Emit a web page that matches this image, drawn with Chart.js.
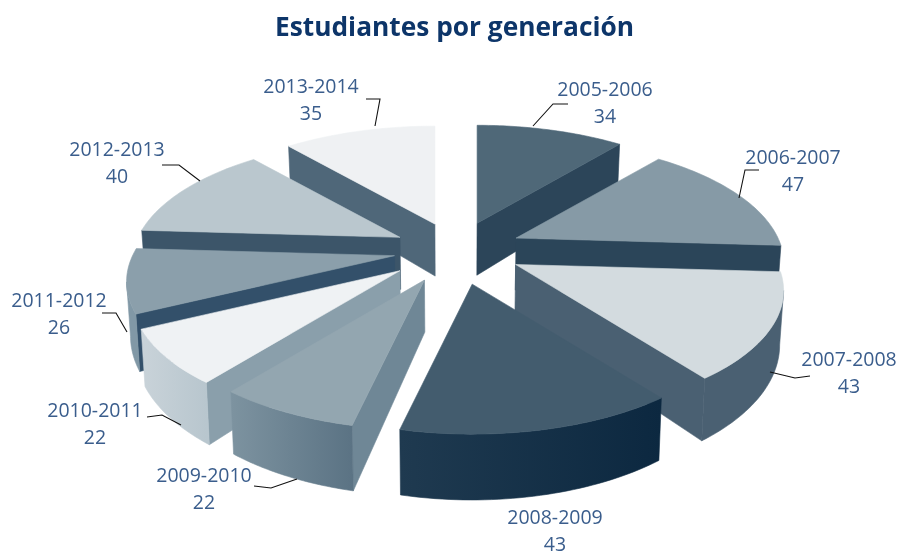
<!DOCTYPE html>
<html><head><meta charset="utf-8">
<script src="https://cdn.jsdelivr.net/npm/chart.js@4"></script>
<style>html,body{margin:0;padding:0;background:#fff}#w{width:900px;height:552px}</style>
</head><body><div id="w"><canvas id="c" width="900" height="552"></canvas></div>
<script>
// Data
const generations = ['2005-2006','2006-2007','2007-2008','2008-2009','2009-2010','2010-2011','2011-2012','2012-2013','2013-2014'];
const students = [34,47,43,43,22,22,26,40,35];
const chartTitle = 'Estudiantes por generación';

// Style
const explode = [68,69,68,75,72,72,64,66,66];
const topColors = ['#4f6878','#869aa6','#d3dbdf','#435c6e','#93a6b0','#eff2f4','#8b9fab','#bac7ce','#eff1f3'];
const cutColors = ['#2c4559','#2b4559','#4a6072','#1f3a50','#6f8796','#8a9fab','#33506a','#3c5569','#4f6779'];
const rimLeft   = ['#2c4559','#2b4559','#4a6072','#1f3a50','#7d93a0','#c9d3d9','#8198a6','#3c5569','#4f6779'];
const rimRight  = ['#2c4559','#2b4559','#4a6072','#0c2840','#5b7384','#b8c6ce','#8198a6','#3c5569','#4f6779'];
const paintOrder = [0,8,7,1,6,5,2,4,3];
const labelX = [605,793,849,555,204,95,59,117,311];
const labelY = [90,158,360,518,476,411,301,150,87];
const lineGap = 27;
const leaders = [
 [[568,104],[553,104],[533,126]],
 [[759,170],[745,170],[739,198]],
 [[810,376],[795,378],[770,372]],
 [],
 [[254,486],[271,488],[297,479]],
 [[147,417],[162,415],[181,425]],
 [[102,313],[116,313],[127,332]],
 [[162,165],[179,165],[200,181]],
 [[366,99],[380,99],[375,126]]
];
const view = {cx:456, cy:250, rx:262, ry:118.5, k:0.21, depth:52, offsetUnit:270};

const project = (u,v)=>{const s=1/(1-view.k*v);return {x:view.rx*u*s,y:view.ry*v*s,s};};

function poly(ctx,pts,fill){
  ctx.beginPath();
  pts.forEach((p,i)=>i?ctx.lineTo(p.x,p.y):ctx.moveTo(p.x,p.y));
  ctx.closePath();
  ctx.fillStyle=fill;ctx.strokeStyle=fill;ctx.lineWidth=0.6;ctx.lineJoin='round';
  ctx.fill();ctx.stroke();
}
const drop=p=>({x:p.x+(view.cx-p.x)*0.012,y:p.y+view.depth*p.s});

const pie3d={
  id:'pie3d',
  beforeDatasetDraw(chart,args){
    const ctx=chart.ctx, arcs=chart.getDatasetMeta(args.index).data;
    ctx.save();
    paintOrder.forEach(i=>{
      const a=arcs[i];
      const t0=a.startAngle+Math.PI/2,t1=a.endAngle+Math.PI/2,mid=(t0+t1)/2;
      const e=a.options.offset/view.offsetUnit;
      const o=project(e*Math.sin(mid),-e*Math.cos(mid));
      const ax=view.cx+o.x,ay=view.cy+o.y;
      const apex={x:ax,y:ay,s:1};
      const rim=[];
      const n=40;
      for(let j=0;j<=n;j++){
        const t=t0+(t1-t0)*j/n,p=project(Math.sin(t),-Math.cos(t));
        rim.push({x:ax+p.x,y:ay+p.y,s:p.s});
      }
      const first=rim[0],last=rim[n];
      // cut faces that look toward the viewer
      if(first.x<apex.x) poly(ctx,[apex,first,drop(first),drop(apex)],cutColors[i]);
      if(apex.x<last.x) poly(ctx,[last,apex,drop(apex),drop(last)],cutColors[i]);
      // outer wall
      const vis=[];
      for(let j=0;j<n;j++){ if(rim[j+1].x<rim[j].x){ if(!vis.length)vis.push(rim[j]); vis.push(rim[j+1]); } }
      if(vis.length>1){
        const xs=vis.map(p=>p.x),g=ctx.createLinearGradient(Math.min(...xs),0,Math.max(...xs),0);
        g.addColorStop(0,rimLeft[i]);g.addColorStop(1,rimRight[i]);
        poly(ctx,vis.concat(vis.map(drop).reverse()),g);
      }
      poly(ctx,[apex,...rim],topColors[i]);
    });
    // leader lines and labels
    ctx.strokeStyle='#111';ctx.lineWidth=1.1;ctx.lineJoin='miter';
    leaders.forEach(l=>{ if(!l.length)return; ctx.beginPath(); l.forEach((p,j)=>j?ctx.lineTo(p[0],p[1]):ctx.moveTo(p[0],p[1])); ctx.stroke(); });
    ctx.fillStyle='#3a5d8c';ctx.font='19.5px "Open Sans"';ctx.textAlign='center';ctx.textBaseline='middle';
    generations.forEach((g,i)=>{
      ctx.fillText(g,labelX[i],labelY[i]);
      ctx.fillText(String(students[i]),labelX[i],labelY[i]+lineGap);
    });
    ctx.restore();
    return false;
  }
};

new Chart(document.getElementById('c'),{
  type:'pie',
  data:{labels:generations,datasets:[{data:students,offset:explode,backgroundColor:topColors,borderWidth:0}]},
  options:{
    responsive:false,animation:false,
    layout:{padding:{top:13,left:9}},
    plugins:{
      legend:{display:false},tooltip:{enabled:false},
      title:{display:true,text:chartTitle,color:'#0d3569',font:{family:'"Open Sans"',size:26.3,weight:'bold'},padding:{top:0,bottom:10}}
    }
  },
  plugins:[pie3d]
});
</script></body></html>
